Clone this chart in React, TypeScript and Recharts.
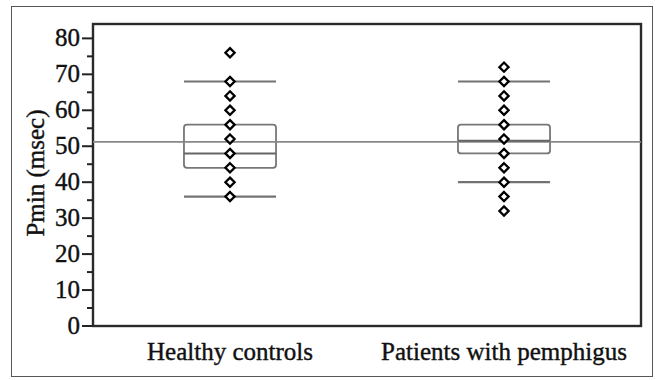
import React from 'react';
import { ComposedChart, XAxis, YAxis, Scatter, ReferenceLine, ReferenceArea } from 'recharts';

const categories = ['Healthy controls', 'Patients with pemphigus'];
const healthyValues = [36, 40, 44, 48, 52, 56, 60, 64, 68, 76];
const patientValues = [32, 36, 40, 44, 48, 52, 56, 60, 64, 68, 72];
const boxQ1 = [44, 48];
const boxMedian = [48, 51.5];
const boxQ3 = [56, 56];
const whiskerLow = [36, 40];
const whiskerHigh = [68, 68];
const overallMean = 51.2;
const yTicks = [0, 5, 10, 15, 20, 25, 30, 35, 40, 45, 50, 55, 60, 65, 70, 75, 80];
const yLabelTicks = [0, 10, 20, 30, 40, 50, 60, 70, 80];

const groups = [healthyValues, patientValues];
const HALF = 0.168;
const FONT = '"Liberation Serif", "Times New Roman", serif';
const TEXT_FILL = '#111';

const Diamond = (props: any) => {
  const { cx, cy } = props;
  const r = 4.6;
  return (
    <polygon
      points={`${cx},${cy - r} ${cx + r},${cy} ${cx},${cy + r} ${cx - r},${cy}`}
      fill="#fff"
      stroke="#000"
      strokeWidth={2.3}
    />
  );
};

const YTick = (props: any) => {
  const { x, y, payload } = props;
  const v = payload.value;
  const major = yLabelTicks.includes(v);
  return (
    <g>
      <line x1={x} x2={x - (major ? 11 : 6)} y1={y} y2={y} stroke="#222" strokeWidth={2} />
      {major && (
        <text
          x={x - 13}
          y={y + 8}
          textAnchor="end"
          fontSize={25}
          fontFamily={FONT}
          fill={TEXT_FILL}
          stroke={TEXT_FILL}
          strokeWidth={0.4}
        >
          {v}
        </text>
      )}
    </g>
  );
};

const XTick = (props: any) => {
  const { x, y, payload } = props;
  const idx = Math.round(payload.value - 0.5);
  return (
    <text
      x={x}
      y={y + 34}
      textAnchor="middle"
      fontSize={25}
      fontFamily={FONT}
      fill={TEXT_FILL}
      stroke={TEXT_FILL}
      strokeWidth={0.4}
    >
      {categories[idx]}
    </text>
  );
};

const BoxShape = (props: any) => {
  const { x, y, width, height } = props;
  return <rect x={x} y={y} width={width} height={height} rx={3} fill="none" stroke="#777" strokeWidth={1.8} />;
};

const FrameShape = (props: any) => {
  const { x, y, width, height } = props;
  return <rect x={x} y={y} width={width} height={height} fill="none" stroke="#2a2a2a" strokeWidth={2.4} />;
};

export default function App() {
  return (
    <div style={{ position: 'absolute', left: 0, top: 0, width: 657, height: 380, background: '#fff' }}>
      <div
        style={{
          position: 'absolute',
          left: 11,
          top: 6,
          width: 642,
          height: 371,
          border: '1px solid #555',
          boxSizing: 'border-box',
        }}
      />
      <div style={{ position: 'absolute', left: 0, top: 0 }}>
        <ComposedChart width={657} height={380} margin={{ top: 24, right: 16, bottom: 24, left: 0 }}>
          <XAxis
            type="number"
            dataKey="x"
            domain={[0, 2]}
            ticks={[0.5, 1.5]}
            axisLine={false}
            tickLine={false}
            tickSize={0}
            tickMargin={0}
            height={30}
            tick={<XTick />}
            interval={0}
          />
          <YAxis
            type="number"
            dataKey="y"
            domain={[0, 84]}
            ticks={yTicks}
            axisLine={false}
            tickLine={false}
            tickSize={0}
            tickMargin={0}
            width={93}
            tick={<YTick />}
            interval={0}
            allowDataOverflow
            label={{
              value: 'Pmin (msec)',
              position: 'insideLeft',
              content: () => (
                <text
                  x={35}
                  y={173}
                  transform="rotate(-90 35 173)"
                  textAnchor="middle"
                  dominantBaseline="central"
                  fontSize={25}
                  fontFamily={FONT}
                  fill={TEXT_FILL}
                  stroke={TEXT_FILL}
                  strokeWidth={0.4}
                >
                  Pmin (msec)
                </text>
              ),
            }}
          />
          <ReferenceArea x1={0} x2={2} y1={0} y2={84} shape={<FrameShape />} ifOverflow="visible" />
          <ReferenceLine y={overallMean} stroke="#888" strokeWidth={1.8} />
          {categories.map((c, i) => (
            <ReferenceArea
              key={'box' + c}
              x1={i + 0.5 - HALF}
              x2={i + 0.5 + HALF}
              y1={boxQ1[i]}
              y2={boxQ3[i]}
              shape={<BoxShape />}
            />
          ))}
          {categories.map((c, i) => (
            <ReferenceLine
              key={'med' + c}
              segment={[
                { x: i + 0.5 - HALF, y: boxMedian[i] },
                { x: i + 0.5 + HALF, y: boxMedian[i] },
              ]}
              stroke="#666"
              strokeWidth={2}
            />
          ))}
          {categories.map((c, i) => (
            <ReferenceLine
              key={'wl' + c}
              segment={[
                { x: i + 0.5 - HALF, y: whiskerLow[i] },
                { x: i + 0.5 + HALF, y: whiskerLow[i] },
              ]}
              stroke="#737373"
              strokeWidth={2.2}
            />
          ))}
          {categories.map((c, i) => (
            <ReferenceLine
              key={'wh' + c}
              segment={[
                { x: i + 0.5 - HALF, y: whiskerHigh[i] },
                { x: i + 0.5 + HALF, y: whiskerHigh[i] },
              ]}
              stroke="#737373"
              strokeWidth={2.2}
            />
          ))}
          {groups.map((vals, i) => (
            <Scatter
              key={'pts' + i}
              data={vals.map((v) => ({ x: i + 0.5, y: v }))}
              shape={<Diamond />}
              isAnimationActive={false}
            />
          ))}
        </ComposedChart>
      </div>
    </div>
  );
}
